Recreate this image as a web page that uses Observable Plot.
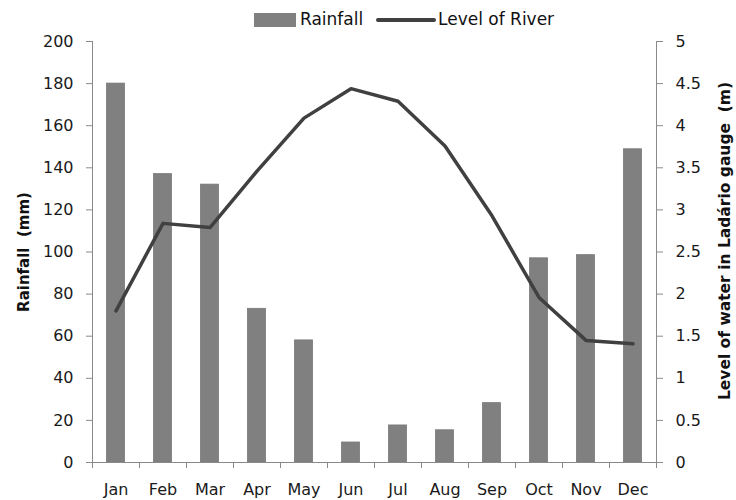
<!DOCTYPE html>
<html>
<head>
<meta charset="utf-8">
<script src="https://cdn.jsdelivr.net/npm/d3@7"></script>
<script src="https://cdn.jsdelivr.net/npm/@observablehq/plot@0.6"></script>
<style>
  html, body { margin: 0; padding: 0; background: #fff; }
  #wrap { width: 736px; height: 500px; position: relative; background: #fff; }
  #legend { position: relative; width: 736px; height: 32px; font-family: "DejaVu Sans", sans-serif; font-size: 17px; color: #111; }
  .sw-rect { position: absolute; left: 254px; top: 13px; width: 42px; height: 14px; background: #808080; }
  .lab { position: absolute; top: 9px; line-height: 20px; white-space: nowrap; }
  .sw-line { position: absolute; left: 376px; top: 18px; width: 60px; height: 4px; background: #404040; border-radius: 2px; }
</style>
</head>
<body>
<div id="wrap">
  <div id="legend">
    <div class="sw-rect"></div><div class="lab" style="left:300px">Rainfall</div>
    <div class="sw-line"></div><div class="lab" style="left:438px">Level of River</div>
  </div>
  <div id="chart"></div>
</div>
<script>
const months = ["Jan","Feb","Mar","Apr","May","Jun","Jul","Aug","Sep","Oct","Nov","Dec"];
const rainfall = [180, 137, 132, 73, 58, 9.5, 17.6, 15.3, 28.2, 97, 98.5, 148.8];
const riverLevel = [1.80, 2.84, 2.79, 3.46, 4.09, 4.44, 4.29, 3.76, 2.93, 1.96, 1.45, 1.41];
const rainTicks = [0, 20, 40, 60, 80, 100, 120, 140, 160, 180, 200];
const levelTicks = [0, 0.5, 1, 1.5, 2, 2.5, 3, 3.5, 4, 4.5, 5];
const leftTitle = "Rainfall  (mm)";
const rightTitle = "Level of water in Ladário gauge  (m)";

const ratio = 200 / 5;
const data = months.map((m, i) => ({i, month: m, rain: rainfall[i], level: riverLevel[i]}));
const axisColor = "#8a8a8a";

const chart = Plot.plot({
  width: 736,
  height: 468,
  marginLeft: 92,
  marginRight: 80,
  marginTop: 9,
  marginBottom: 38,
  x: {domain: [0, 12]},
  y: {domain: [0, 200]},
  style: {fontFamily: "DejaVu Sans, sans-serif", fontSize: "16px", color: "#1a1a1a", background: "white", overflow: "visible"},
  marks: [
    Plot.rectY(data, {x1: "i", x2: d => d.i + 1, y: "rain", fill: "#808080", stroke: "#787878", strokeWidth: 0.8, insetLeft: 14.5, insetRight: 14.5}),
    Plot.ruleX([0, 12], {stroke: axisColor}),
    Plot.ruleY([0], {stroke: axisColor}),
    Plot.axisY({anchor: "left", ticks: rainTicks, tickSize: 6, tickPadding: 13, stroke: axisColor, label: null}),
    Plot.axisY({anchor: "right", ticks: levelTicks.map(v => v * ratio), tickFormat: v => d3.format("~g")(v / ratio), tickSize: 6, tickPadding: 13, stroke: axisColor, label: null}),
    Plot.axisX({ticks: d3.range(13), tickSize: 6, tickFormat: () => "", stroke: axisColor, label: null}),
    Plot.axisX({ticks: months.map((m, i) => i + 0.5), tickSize: 0, tickPadding: 21, tickFormat: v => months[Math.floor(v)], label: null}),
    Plot.line(data, {x: d => d.i + 0.5, y: d => d.level * ratio, stroke: "#404040", strokeWidth: 3.5, strokeLinejoin: "round"}),
    Plot.text([leftTitle], {frameAnchor: "left", dx: -68, rotate: -90, textAnchor: "middle", fontWeight: "bold", fontSize: 15, fill: "#111"}),
    Plot.text([rightTitle], {frameAnchor: "right", dx: 69, dy: -11, rotate: -90, textAnchor: "middle", fontWeight: "bold", fontSize: 15.5, fill: "#111"})
  ]
});
document.getElementById("chart").appendChild(chart);
</script>
</body>
</html>
